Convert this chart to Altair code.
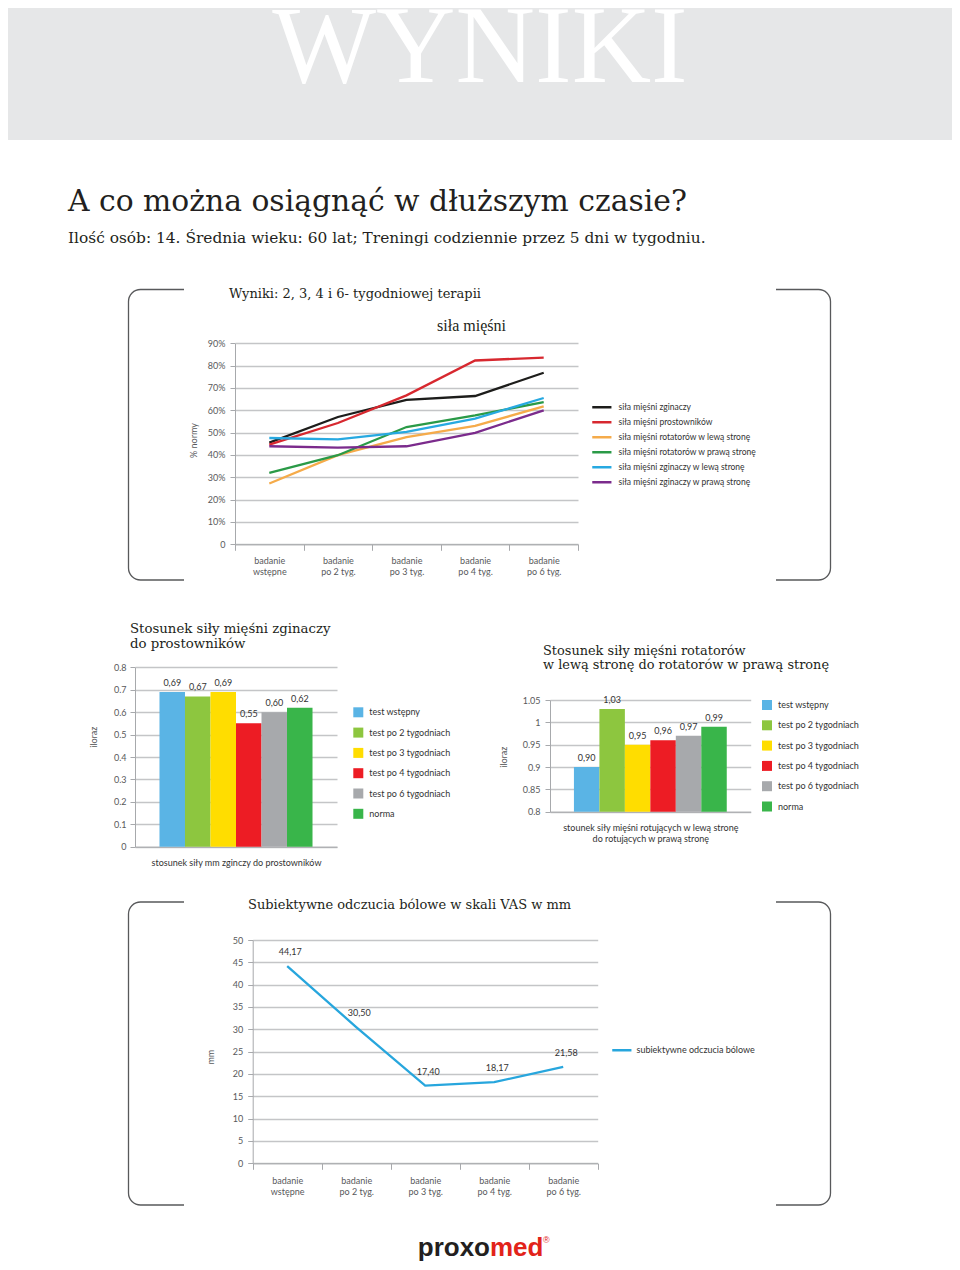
import altair as alt
import pandas as pd

M = 8
W, H = 944, 1254


def px(x):
    return x - M


def py(y):
    return y - M


# ---------------- data ----------------
stages = ["badanie wstępne", "badanie po 2 tyg.", "badanie po 3 tyg.",
          "badanie po 4 tyg.", "badanie po 6 tyg."]
series_names = ["siła mięśni zginaczy", "siła mięśni prostowników",
                "siła mięśni rotatorów w lewą stronę", "siła mięśni rotatorów w prawą stronę",
                "siła mięśni zginaczy w lewą stronę", "siła mięśni zginaczy w prawą stronę"]
zginaczy = [45.5, 57.0, 64.7, 66.4, 76.8]
prostownikow = [44.6, 54.3, 66.7, 82.3, 83.6]
rotatorow_lewa = [27.2, 39.9, 48.0, 53.0, 61.8]
rotatorow_prawa = [32.0, 39.9, 52.5, 57.7, 63.7]
zginaczy_lewa = [47.6, 47.0, 50.3, 56.3, 65.5]
zginaczy_prawa = [43.9, 43.3, 43.9, 49.9, 60.0]
series_colors = ["#1d1d1b", "#d7282f", "#f5ab4a", "#2a9a47", "#27a9e1", "#7b2b8c"]
pct_ticks = [0, 10, 20, 30, 40, 50, 60, 70, 80, 90]

tests = ["test wstępny", "test po 2 tygodniach", "test po 3 tygodniach",
         "test po 4 tygodniach", "test po 6 tygodniach", "norma"]
test_colors = ["#5ab4e5", "#8dc63f", "#ffdd00", "#ed1c24", "#a7a9ac", "#39b54a"]
ratio_flex_ext = [0.69, 0.67, 0.69, 0.55, 0.60, 0.62]
ratio_rot = [0.90, 1.03, 0.95, 0.96, 0.97, 0.99]
ticks_flex = [0, 0.1, 0.2, 0.3, 0.4, 0.5, 0.6, 0.7, 0.8]
ticks_rot = [0.8, 0.85, 0.9, 0.95, 1, 1.05]

vas = [44.17, 30.50, 17.40, 18.17, 21.58]
vas_name = ["subiektywne odczucia bólowe"]
vas_ticks = [0, 5, 10, 15, 20, 25, 30, 35, 40, 45, 50]

SANS = "Lato"
SERIF = "Liberation Serif"
SLAB = "DejaVu Serif"
AX = "#a7a9ac"
GRID = "#c4c5c7"
LAB = "#58595b"
TXT = "#231f20"
LINE_SYMBOL = "M-1.2,0L1.2,0"


def comma(v):
    return f"{v:.2f}".replace(".", ",")


one = alt.Data(values=[{"k": 1}])


def text(txt, x, y, size, font=SLAB, color=TXT, align="left", baseline="middle",
         weight="normal", lineHeight=None):
    kw = dict(text=txt, font=font, fontSize=size, color=color, align=align,
              baseline=baseline, fontWeight=weight)
    if lineHeight is not None:
        kw["lineHeight"] = lineHeight
    return alt.Chart(one).mark_text(**kw).encode(x=alt.value(px(x)), y=alt.value(py(y)))


def rect(x0, y0, x1, y1, color):
    return alt.Chart(one).mark_rect(color=color).encode(
        x=alt.value(px(x0)), x2=alt.value(px(x1)), y=alt.value(py(y0)), y2=alt.value(py(y1)))


def frame(x0, y0, x1, y1):
    return alt.Chart(one).mark_rect(fillOpacity=0, stroke="#58595b", strokeWidth=1.3,
                                    cornerRadius=12).encode(
        x=alt.value(px(x0)), x2=alt.value(px(x1)), y=alt.value(py(y0)), y2=alt.value(py(y1)))


# ---------------- decorations ----------------
deco = [
    rect(0, 0, 960, 140, "#e6e7e8"),
    text("WYNIKI", 480, 82, 110, font=SERIF, color="white", align="center",
         baseline="alphabetic"),
    text("A co można osiągnąć w dłuższym czasie?", 68, 210.7, 29.8, baseline="alphabetic"),
    text("Ilość osób: 14. Średnia wieku: 60 lat; Treningi codziennie przez 5 dni w tygodniu.",
         68, 243.3, 15.4, baseline="alphabetic"),
    frame(128.5, 289.5, 830.5, 580),
    rect(184, 286, 776, 293, "white"),
    rect(184, 576.5, 776, 583.5, "white"),
    frame(128.5, 902, 830.5, 1205),
    rect(184, 898.5, 776, 905.5, "white"),
    rect(184, 1201.5, 776, 1208.5, "white"),
    text("Wyniki: 2, 3, 4 i 6- tygodniowej terapii", 229, 294, 13.0),
    text("siła mięśni", 471.5, 326, 16, font=SERIF, align="center"),
    text(["Stosunek siły mięśni zginaczy", "do prostowników"], 130, 629, 13.3, lineHeight=15),
    text(["Stosunek siły mięśni rotatorów", "w lewą stronę do rotatorów w prawą stronę"],
         543, 650.5, 12.9, lineHeight=14.5),
    text("Subiektywne odczucia bólowe w skali VAS w mm", 248, 905, 13.0),
    text("proxo", 490, 1255.5, 26, font="Liberation Sans", color=TXT, align="right",
         baseline="alphabetic", weight="bold"),
    text("med", 490, 1255.5, 26, font="Liberation Sans", color="#e2231a", align="left",
         baseline="alphabetic", weight="bold"),
    text("®", 543, 1240, 9, font="Liberation Sans", color="#e2231a", align="left"),
]

# ---------------- chart 1: lines ----------------
rows = []
for name, vals in zip(series_names, [zginaczy, prostownikow, rotatorow_lewa, rotatorow_prawa,
                                     zginaczy_lewa, zginaczy_prawa]):
    for s, v in zip(stages, vals):
        rows.append({"etap": s, "seria": name, "v": v})
df1 = pd.DataFrame(rows)

two_lines = "[slice(datum.label,0,7), slice(datum.label,8)]"

chart1 = alt.Chart(df1).mark_line(strokeWidth=2.3).encode(
    x=alt.X("etap:N", sort=stages,
            scale=alt.Scale(type="band", domain=stages, range=[px(235), px(578)],
                            paddingInner=0, paddingOuter=0),
            axis=alt.Axis(orient="bottom", offset=py(544.3) - H, title=None, tickBand="extent",
                          labelExpr=two_lines, labelAngle=0, labelLineHeight=11, tickSize=6,
                          labelPadding=6, grid=False)),
    y=alt.Y("v:Q",
            scale=alt.Scale(domain=[0, 90], range=[py(544.3), py(343.3)], zero=False, nice=False),
            axis=alt.Axis(orient="left", offset=-px(235), values=pct_ticks,
                          labelExpr="datum.value == 0 ? '0' : datum.value + '%'",
                          grid=True, tickSize=5, labelPadding=5,
                          title="% normy", titleX=193 - 235, titleY=py(440), titleAngle=270,
                          titleAlign="center", titleBaseline="middle")),
    color=alt.Color("seria:N", sort=series_names,
                    scale=alt.Scale(domain=series_names, range=series_colors),
                    legend=alt.Legend(orient="none", legendX=px(592) + 0.35,
                                      legendY=py(407) - 9.25,
                                      title=None, symbolType=LINE_SYMBOL, symbolSize=256,
                                      symbolStrokeWidth=2.5, labelFontSize=8.5, labelFont=SANS,
                                      labelColor="#333333", labelOffset=7.15, rowPadding=0,
                                      padding=0, labelLimit=400)),
)

# ---------------- chart 2 / 3: bars ----------------


def bar_chart(values, y_dom, y_ticks, y_rng, x_rng, outer, ytitle_xy, xtitle, leg_xy, label_expr,
              tick_size, label_pad):
    df = pd.DataFrame({"test": tests, "v": values, "lab": [comma(v) for v in values]})
    ax_x = px(x_rng[0])
    xenc = alt.X("test:N", sort=tests,
                 scale=alt.Scale(type="band", domain=tests, range=[px(x_rng[0]), px(x_rng[1])],
                                 paddingInner=0, paddingOuter=outer),
                 axis=alt.Axis(orient="bottom", offset=py(y_rng[0]) - H, labels=False, ticks=False,
                               grid=False, title=xtitle, titleFontSize=9, titleColor="#333333",
                               titleBaseline="top", titleY=11.5, titleLineHeight=11.3))
    yenc = alt.Y("v:Q",
                 scale=alt.Scale(domain=y_dom, range=[py(y_rng[0]), py(y_rng[1])], zero=False,
                                 nice=False),
                 axis=alt.Axis(orient="left", offset=-ax_x, values=y_ticks, labelExpr=label_expr,
                               grid=True, tickSize=tick_size, labelPadding=label_pad,
                               title="iloraz", titleX=ytitle_xy[0] - x_rng[0],
                               titleY=py(ytitle_xy[1]), titleAngle=270, titleAlign="center",
                               titleBaseline="middle"))
    base = alt.Chart(df).encode(x=xenc)
    bars = base.mark_bar().encode(
        y=yenc,
        y2=alt.datum(y_dom[0]),
        color=alt.Color("test:N", sort=tests, scale=alt.Scale(domain=tests, range=test_colors),
                        legend=alt.Legend(orient="none", legendX=px(leg_xy[0]),
                                          legendY=py(leg_xy[1]), title=None, symbolType="square",
                                          symbolSize=100, symbolStrokeWidth=0, labelFontSize=9,
                                          labelFont=SANS, labelColor="#333333", labelOffset=6,
                                          rowPadding=10.3, padding=0, labelLimit=400)),
    )
    labels = base.mark_text(baseline="bottom", dy=-4, fontSize=9, font=SANS,
                            color="#333333").encode(y="v:Q", text="lab:N")
    return alt.layer(bars, labels)


chart2 = bar_chart(ratio_flex_ext, [0, 0.8], ticks_flex, (846.7, 667.3), (135, 337), 0.96,
                   (93.3, 736.7), "stosunek siły mm zginczy do prostowników", (353.3, 707.3),
                   "datum.value == 0 ? '0' : format(datum.value, '.1f')", 5, 4)
chart3 = bar_chart(ratio_rot, [0.8, 1.05], ticks_rot, (811.7, 700), (550, 750.7), 0.94,
                   (503.3, 756.7),
                   ["stounek siły mięśni rotujących w lewą stronę", "do rotujących w prawą stronę"],
                   (762, 700), "'' + datum.value", 5, 5)

# ---------------- chart 4: VAS ----------------
df4 = pd.DataFrame({"etap": stages, "v": vas, "seria": vas_name * len(stages),
                    "lab": [comma(v) for v in vas]})
base4 = alt.Chart(df4).encode(
    x=alt.X("etap:N", sort=stages,
            scale=alt.Scale(type="band", domain=stages, range=[px(252.7), px(597.7)],
                            paddingInner=0, paddingOuter=0),
            axis=alt.Axis(orient="bottom", offset=py(1163.3) - H, title=None, tickBand="extent",
                          labelExpr=two_lines, labelAngle=0, labelLineHeight=11, tickSize=6,
                          labelPadding=7, grid=False)),
    y=alt.Y("v:Q",
            scale=alt.Scale(domain=[0, 50], range=[py(1163.3), py(940)], zero=False, nice=False),
            axis=alt.Axis(orient="left", offset=-px(252.7), values=vas_ticks, grid=True,
                          tickSize=5, labelPadding=5, title="mm", titleX=210.7 - 252.7,
                          titleY=py(1056.7), titleAngle=270, titleAlign="center",
                          titleBaseline="middle")),
)
line4 = base4.mark_line(strokeWidth=2.3).encode(
    color=alt.Color("seria:N", scale=alt.Scale(domain=vas_name, range=["#27a6dd"]),
                    legend=alt.Legend(orient="none", legendX=px(612) + 0.35,
                                      legendY=py(1050) - 9.25, title=None,
                                      symbolType=LINE_SYMBOL, symbolSize=256,
                                      symbolStrokeWidth=2.5, labelFontSize=9,
                                      labelFont=SANS, labelColor="#333333", labelOffset=5.15,
                                      padding=0, labelLimit=400)))
text4 = base4.mark_text(baseline="bottom", dy=-9, dx=3, fontSize=9, font=SANS,
                        color="#333333").encode(text="lab:N")
chart4 = alt.layer(line4, text4)

chart = alt.layer(*deco, chart1, chart2, chart3, chart4).resolve_scale(
    x="independent", y="independent", color="independent"
).resolve_axis(x="independent", y="independent").resolve_legend(color="independent").properties(
    width=W, height=H, autosize=alt.AutoSizeParams(type="none"), padding=0,
    background="white"
).configure_view(stroke=None).configure_axis(
    labelFont=SANS, labelFontSize=9, labelColor=LAB, domainColor=AX, tickColor=AX,
    gridColor=GRID, gridWidth=1.3, titleFont=SANS, titleFontSize=9, titleFontWeight="normal",
    titleColor=LAB, domainWidth=1, tickWidth=1
)

chart.save("out.html", embed_options={"renderer": "svg", "actions": False})
